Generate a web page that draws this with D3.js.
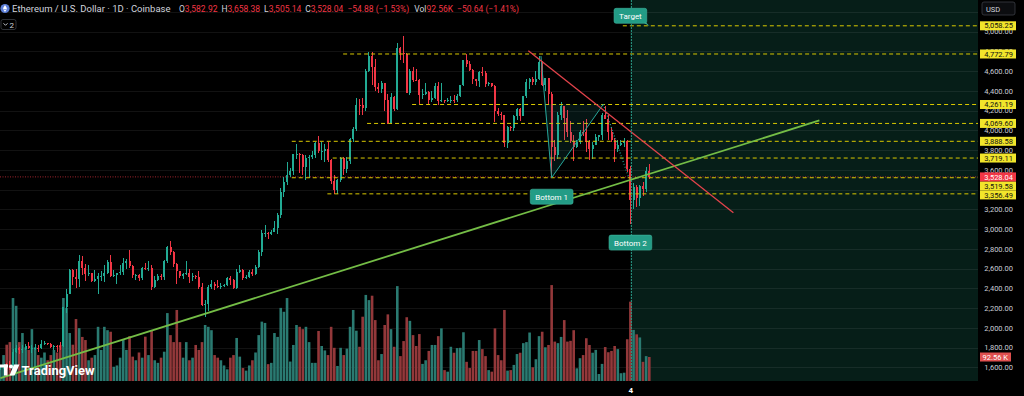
<!DOCTYPE html>
<html lang="en">
<head>
<meta charset="utf-8">
<script src="https://cdnjs.cloudflare.com/ajax/libs/d3/7.8.5/d3.min.js"></script>
<style>
body{margin:0;background:#000;overflow:hidden}
svg{display:block;font-family:Roboto,"Noto Sans",sans-serif}
</style>
</head>
<body>
<svg id="chart" width="1024" height="396"></svg>
<script>
// daily candles, ETH/USD Coinbase, first bar 18 Apr 2025
var firstDay = new Date(2025, 3, 18);
var opens = [1585,1588,1613,1587,1577,1757,1797,1771,1786,1820,
  1792,1798,1799,1794,1838,1843,1834,1808,1816,1815,
  1811,2207,2345,2583,2515,2495,2680,2610,2545,2550,
  2475,2495,2525,2525,2550,2665,2525,2530,2550,2565,
  2660,2680,2630,2530,2530,2505,2605,2595,2610,2415,
  2480,2525,2510,2680,2815,2770,2645,2575,2525,2545,
  2550,2515,2525,2515,2410,2230,2240,2415,2440,2420,
  2415,2425,2435,2500,2485,2405,2570,2590,2505,2515,
  2570,2540,2615,2770,2955,2960,2945,2975,3015,3140,
  3375,3475,3545,3590,3755,3760,3745,3625,3715,3725,
  3745,3875,3795,3795,3810,3695,3485,3395,3495,3715,
  3610,3685,3910,4010,4260,4255,4225,4600,4750,4640,
  4440,4420,4475,4310,4070,4340,4220,4830,4780,4775,
  4380,4600,4510,4505,4360,4370,4390,4310,4330,4450,
  4300,4305,4300,4305,4310,4305,4350,4455,4715,4670,
  4610,4520,4500,4590,4585,4470,4480,4450,4200,4165,
  4150,3870,4030,4020,4140,4215,4145,4350,4485,4515,
  4490,4515,4690,4460,4525,4370,3830,3750,4155,4245,
  4125,3985,3895,3830,3885,3985,3980,3880,3810,3855,
  3935,3950,4160,4115,3980,3905,3810,3850,3875,3895,
  3605,3290,3430,3315,3435,3405,3582.92];
var highs = [1600,1615,1640,1660,1785,1830,1805,1822,1835,1855,
  1830,1840,1825,1875,1868,1849,1845,1826,1830,1861,
  2210,2390,2600,2600,2600,2738,2724,2645,2640,2560,
  2590,2555,2580,2635,2690,2735,2590,2560,2640,2710,
  2700,2790,2640,2540,2545,2620,2660,2680,2640,2525,
  2540,2540,2690,2830,2880,2780,2655,2580,2550,2680,
  2600,2555,2535,2575,2450,2280,2430,2480,2465,2485,
  2450,2440,2510,2525,2495,2595,2640,2600,2530,2590,
  2595,2635,2790,2990,3040,2970,2995,3085,3160,3420,
  3530,3680,3615,3760,3860,3770,3755,3750,3745,3790,
  3880,3940,3880,3865,3880,3710,3545,3505,3730,3725,
  3725,3925,4030,4330,4320,4330,4625,4790,4790,4720,
  4475,4500,4480,4370,4380,4350,4880,4840,4956,4780,
  4620,4640,4620,4520,4420,4480,4400,4400,4480,4485,
  4480,4310,4330,4350,4360,4370,4460,4715,4770,4700,
  4620,4520,4600,4640,4600,4485,4480,4460,4230,4190,
  4155,4040,4040,4150,4230,4230,4350,4520,4530,4540,
  4600,4755,4700,4530,4525,4390,3900,4190,4290,4245,
  4210,4090,3950,3900,4000,4090,4110,3900,3880,3960,
  3955,4180,4250,4160,4030,3920,3900,3900,3920,3900,
  3635,3470,3450,3450,3480,3630,3658.38];
var lows = [1575,1580,1560,1570,1565,1745,1735,1740,1775,1786,
  1745,1780,1755,1790,1827,1825,1800,1779,1750,1780,
  1806,2150,2340,2430,2400,2410,2530,2475,2520,2460,
  2460,2340,2470,2460,2540,2515,2510,2440,2530,2535,
  2600,2610,2500,2480,2475,2485,2585,2580,2380,2400,
  2470,2480,2485,2660,2740,2620,2440,2500,2490,2530,
  2450,2470,2490,2390,2225,2110,2170,2390,2385,2400,
  2390,2410,2420,2430,2390,2395,2560,2485,2490,2505,
  2520,2535,2605,2730,2920,2900,2935,2970,2945,3110,
  3325,3450,3525,3550,3705,3565,3550,3500,3520,3710,
  3715,3770,3700,3680,3680,3460,3360,3355,3480,3545,
  3570,3660,3880,3990,4150,4150,4200,4590,4460,4400,
  4380,4380,4200,4060,4060,4200,4210,4710,4680,4380,
  4360,4490,4500,4270,4320,4360,4270,4290,4320,4260,
  4290,4280,4285,4280,4280,4290,4340,4445,4640,4600,
  4470,4450,4440,4550,4440,4450,4440,4080,4140,4100,
  3830,3820,3990,3990,4100,4090,4140,4330,4420,4460,
  4460,4510,4450,4400,4270,3520,3690,3710,4100,3900,
  3930,3870,3690,3820,3860,3940,3780,3700,3710,3850,
  3890,3900,4110,3900,3880,3680,3780,3845,3830,3580,
  3055,3200,3220,3230,3335,3380,3505.14];
var closes = [1588,1613,1587,1577,1757,1797,1771,1786,1820,1792,
  1798,1799,1794,1838,1843,1834,1808,1816,1815,1811,
  2207,2345,2583,2515,2495,2680,2610,2545,2550,2475,
  2495,2525,2525,2550,2665,2525,2530,2550,2565,2660,
  2680,2630,2530,2530,2505,2605,2595,2610,2415,2480,
  2525,2510,2680,2815,2770,2645,2575,2525,2545,2550,
  2515,2525,2515,2410,2230,2240,2415,2440,2420,2415,
  2425,2435,2500,2485,2405,2570,2590,2505,2515,2570,
  2540,2615,2770,2955,2960,2945,2975,3015,3140,3375,
  3475,3545,3590,3755,3760,3745,3625,3715,3725,3745,
  3875,3795,3795,3810,3695,3485,3395,3495,3715,3610,
  3685,3910,4010,4260,4255,4225,4600,4750,4640,4440,
  4420,4475,4310,4070,4340,4220,4830,4780,4775,4380,
  4600,4510,4505,4360,4370,4390,4310,4330,4450,4300,
  4305,4300,4305,4310,4305,4350,4455,4715,4670,4610,
  4520,4500,4590,4585,4470,4480,4450,4200,4165,4150,
  3870,4030,4020,4140,4215,4145,4350,4485,4515,4490,
  4515,4690,4460,4525,4370,3830,3750,4155,4245,4125,
  3985,3895,3830,3885,3985,3980,3880,3810,3855,3935,
  3950,4160,4115,3980,3905,3810,3850,3875,3895,3605,
  3290,3430,3315,3435,3405,3582.92,3528.04];
// volume in thousands
var volumes = [60,100,140,150,320,290,150,185,130,120,
  200,130,100,90,110,80,100,120,110,139,
  320,282,185,140,239,204,170,158,80,90,
  100,209,120,209,196,190,55,60,90,158,
  120,173,94,80,110,90,171,100,196,80,
  70,90,113,262,177,150,274,150,90,150,
  80,90,139,120,150,216,209,196,100,90,
  80,60,45,90,100,166,94,50,40,60,
  80,110,177,229,224,65,70,185,170,282,
  267,320,75,139,216,209,200,209,150,70,
  70,193,135,118,100,209,128,58,128,100,
  125,209,274,194,132,248,332,312,329,235,
  80,104,216,257,200,132,366,96,154,246,
  232,177,135,181,66,80,116,139,139,173,
  203,42,36,132,109,127,128,188,74,50,
  116,116,158,123,96,42,36,203,100,80,
  274,40,42,62,104,109,146,150,187,53,
  84,173,190,130,139,370,152,146,170,235,
  152,155,196,49,88,100,165,139,109,120,
  27,66,131,111,116,135,123,30,32,161,
  306,197,180,168,74,96,92.56];

var priceTicks = [1600,1800,2000,2200,2400,2600,2800,3000,3200,3400,3600,3800,4000,4200,4400,4600,4800,5000,5200];
var hiddenTicks = [3400,5200];
var levels = [5058.25,4772.79,4261.19,4069.60,3888.58,3719.11,3519.58,3356.49];
var levelStarts = [197.6,108.8,130.7,116.4,92.5,105.5,92.5,103.8];
// drawn lines as [bar index, price]
var supportLine = [[0,1490],[260,4100]];
var resistLine = [[167.6,4806],[232.7,3166]];
var patternSolid = [[171.6,4752],[175,3520],[191.4,4263]];
var patternDotted = [[191.4,4263],[199.4,3527]];
var patternFill = [[172.7,4263],[191.4,4263],[175,3520]];
var markerIndex = 200;
var noteTexts = ["Target","Bottom 1","Bottom 2"];
var noteAnchors = [[200,5058.25],[175,3520],[200,3055]];
var volDelta = "\u221250.64 (\u22121.41%)";

var dates = opens.map(function(d,i){ return d3.timeDay.offset(firstDay, i); });
var last = closes.length - 1;
var fmt = d3.format(",.2f");

var svg = d3.select("#chart");
var plotW = 978, plotH = 381;
var upC = "#22ab94", downC = "#f23645";

var x = d3.scaleLinear().domain([0, 206]).range([0.4, 649.3]);
var y = d3.scaleLinear().domain([1600, 5200]).range([367.3, 11.8]);
var yVol = d3.scaleLinear().domain([0, 400]).range([381, 277.3]);

svg.append("rect").attr("width",1024).attr("height",396).attr("fill","#000");
svg.append("clipPath").attr("id","clip").append("rect").attr("width",plotW).attr("height",plotH);
var g = svg.append("g").attr("clip-path","url(#clip)");

// shaded zone after the marker
g.append("rect").attr("x",x(markerIndex)).attr("y",0)
  .attr("width",plotW - x(markerIndex)).attr("height",plotH).attr("fill","#061e18");

g.selectAll(".grid").data(priceTicks).enter().append("line")
  .attr("x1",0).attr("x2",plotW)
  .attr("y1",function(d){ return Math.round(y(d))+0.5; })
  .attr("y2",function(d){ return Math.round(y(d))+0.5; })
  .attr("stroke","rgba(255,255,255,0.07)");

// volume
g.selectAll(".vol").data(volumes).enter().append("rect")
  .attr("x",function(d,i){ return x(i)-1.3; })
  .attr("width",2.6)
  .attr("y",function(d){ return yVol(d); })
  .attr("height",function(d){ return yVol(0)-yVol(d); })
  .attr("fill",function(d,i){ return closes[i] >= opens[i] ? "#2a7a71" : "#93383a"; });

// last price line
g.append("line").attr("x1",0).attr("x2",plotW)
  .attr("y1",y(closes[last])).attr("y2",y(closes[last]))
  .attr("stroke",downC).attr("stroke-width",0.8).attr("stroke-dasharray","1,1.5").attr("opacity",0.85);

// candles
var cg = g.append("g").attr("shape-rendering","crispEdges");
cg.selectAll(".wick").data(closes).enter().append("line")
  .attr("x1",function(d,i){ return x(i); }).attr("x2",function(d,i){ return x(i); })
  .attr("y1",function(d,i){ return y(highs[i]); }).attr("y2",function(d,i){ return y(lows[i]); })
  .attr("stroke",function(d,i){ return d >= opens[i] ? upC : downC; });
cg.selectAll(".body").data(closes).enter().append("rect")
  .attr("x",function(d,i){ return x(i)-1; }).attr("width",2)
  .attr("y",function(d,i){ return y(Math.max(d,opens[i])); })
  .attr("height",function(d,i){ return Math.max(1, Math.abs(y(d)-y(opens[i]))); })
  .attr("fill",function(d,i){ return d >= opens[i] ? upC : downC; });

// horizontal levels
g.selectAll(".lvl").data(levels).enter().append("line")
  .attr("x1",function(d,i){ return x(levelStarts[i]); }).attr("x2",plotW)
  .attr("y1",function(d){ return y(d); }).attr("y2",function(d){ return y(d); })
  .attr("stroke","#d9c800").attr("stroke-width",1).attr("stroke-dasharray","4,3");

var line = d3.line().x(function(d){ return x(d[0]); }).y(function(d){ return y(d[1]); });

// pattern
g.append("path").attr("d",line(patternFill)+"Z").attr("fill","rgba(38,166,154,0.13)");
g.append("path").attr("d",line(patternSolid)).attr("fill","none").attr("stroke","#26a69a").attr("stroke-width",1);
g.append("path").attr("d",line(patternDotted)).attr("fill","none").attr("stroke","#26a69a")
  .attr("stroke-width",1.2).attr("stroke-dasharray","1,2");

// trend lines
g.append("path").attr("d",line(supportLine)).attr("stroke","#74bd46").attr("stroke-width",1.8).attr("fill","none");
g.append("path").attr("d",line(resistLine)).attr("stroke","#e3434b").attr("stroke-width",1.3).attr("fill","none");

// marker line
g.append("line").attr("x1",x(markerIndex)+1).attr("x2",x(markerIndex)+1).attr("y1",0).attr("y2",plotH)
  .attr("stroke","#2a9a88").attr("stroke-width",1).attr("stroke-dasharray","2,1");

// notes
noteTexts.forEach(function(t,k){
  var a = noteAnchors[k];
  var cx = x(a[0]), cy = y(a[1]) + (k === 0 ? -10 : 19);
  var ng = g.append("g");
  var txt = ng.append("text").attr("x",cx).attr("y",cy+3).attr("text-anchor","middle")
    .attr("fill","#fff").attr("font-size",8).text(t);
  var w = txt.node().getComputedTextLength() + 10;
  ng.insert("rect","text").attr("x",cx-w/2).attr("y",cy-7.5).attr("width",w).attr("height",15)
    .attr("rx",2).attr("fill","#239c86").attr("stroke","#3fb59d").attr("stroke-width",0.6);
  if (k === 0) {
    ng.insert("path","text").attr("d","M"+(cx+w/2-3)+","+(cy+7)+" L"+(cx+w/2+3)+","+(y(a[1])+0.5)+" L"+(cx+w/2-0.5)+","+(cy+7)+"Z")
      .attr("fill","#3fb59d");
  }
});

// right price axis
svg.append("rect").attr("x",plotW).attr("width",1024-plotW).attr("height",396).attr("fill","#000");
var ax = svg.append("g").attr("transform","translate(1013,0)")
  .call(d3.axisLeft(y).tickValues(priceTicks.filter(function(d){ return hiddenTicks.indexOf(d) < 0; }))
    .tickFormat(fmt).tickSize(0).tickPadding(0));
ax.select(".domain").remove();
ax.attr("font-size",7.5).attr("font-family","Roboto, sans-serif");
ax.selectAll("text").attr("fill","#c9ccd4");

// price labels on the axis
var tags = levels.map(function(d){ return {v:d, y:y(d), fill:"#f2e52b", color:"#111"}; });
tags.push({v:closes[last], y:y(closes[last]), fill:downC, color:"#fff", main:true});
tags.sort(function(a,b){ return a.y - b.y || (b.main?1:0) - (a.main?1:0); });
var tagH = 9;
for (var k = 1; k < tags.length; k++) {
  if (tags[k].y - tags[k-1].y < tagH) tags[k].y = tags[k-1].y + tagH;
}
tags.sort(function(a,b){ return (a.main?1:0) - (b.main?1:0); });
var tg = svg.selectAll(".tag").data(tags).enter().append("g");
tg.append("rect").attr("x",980).attr("y",function(d){ return d.y - tagH/2; })
  .attr("width",36).attr("height",tagH).attr("fill",function(d){ return d.fill; });
tg.append("text").attr("x",1013).attr("y",function(d){ return d.y + 2.7; }).attr("text-anchor","end")
  .attr("font-size",7.5).attr("fill",function(d){ return d.color; }).text(function(d){ return fmt(d.v); });

// volume label
var vTag = svg.append("g");
vTag.append("rect").attr("x",980).attr("y",yVol(volumes[last])-4.5).attr("width",31).attr("height",9).attr("fill","#e0504f");
vTag.append("text").attr("x",1008).attr("y",yVol(volumes[last])+2.7).attr("text-anchor","end")
  .attr("font-size",7.5).attr("fill","#fff").text(d3.format(".2f")(volumes[last]) + " K");

// currency box
svg.append("rect").attr("x",982).attr("y",2).attr("width",33).attr("height",13).attr("rx",2)
  .attr("fill","#0c0d10").attr("stroke","#3a3d45").attr("stroke-width",0.8);
svg.append("text").attr("x",986).attr("y",11.5).attr("font-size",7.5).attr("fill","#d1d4dc").text("USD");

// time axis
var tx = svg.append("g").attr("transform","translate(0,384)")
  .call(d3.axisBottom(x).tickValues([markerIndex]).tickSize(0).tickPadding(3)
    .tickFormat(function(i){ return d3.timeFormat("%-d")(dates[i]); }));
tx.select(".domain").remove();
tx.attr("font-size",8).attr("font-family","Roboto, sans-serif").attr("font-weight","bold");
tx.selectAll("text").attr("fill","#fff");

// header
var hd = svg.append("g");
hd.append("circle").attr("cx",5).attr("cy",8.5).attr("r",4.6).attr("fill","#5b7dd6");
hd.append("path").attr("d","M5,4.9 L7.1,8.4 L5,9.6 L2.9,8.4 Z M5,10.2 L7.1,9 L5,12 L2.9,9 Z").attr("fill","#fff");
hd.append("text").attr("x",12).attr("y",12).attr("font-size",9.5).attr("fill","#d1d4dc")
  .text("Ethereum / U.S. Dollar \u00b7 1D \u00b7 Coinbase");
var chg = closes[last] - closes[last-1];
var oh = hd.append("text").attr("x",179).attr("y",12).attr("font-size",8.5);
[["O",fmt(opens[last])],["H",fmt(highs[last])],["L",fmt(lows[last])],["C",fmt(closes[last])]].forEach(function(p,k){
  oh.append("tspan").attr("fill","#d1d4dc").attr("dx",k ? 4 : 0).text(p[0]);
  oh.append("tspan").attr("fill",downC).text(p[1]);
});
oh.append("tspan").attr("fill",downC).attr("dx",4)
  .text(fmt(chg) + " (" + d3.format(".2%")(chg / closes[last-1]) + ")");
oh.append("tspan").attr("fill","#d1d4dc").attr("dx",5).text("Vol");
oh.append("tspan").attr("fill",downC).text(d3.format(".2f")(volumes[last]) + "K");
oh.append("tspan").attr("fill",downC).attr("dx",4).text(volDelta);

hd.append("rect").attr("x",1).attr("y",19.5).attr("width",15).attr("height",10).attr("rx",2)
  .attr("fill","none").attr("stroke","#3a3d45").attr("stroke-width",0.8);
hd.append("path").attr("d","M3.5,23.3 L5.5,25.3 L7.5,23.3").attr("fill","none").attr("stroke","#d1d4dc").attr("stroke-width",0.9);
hd.append("text").attr("x",9.5).attr("y",27.5).attr("font-size",8).attr("fill","#d1d4dc").text("2");

// watermark
var wm = svg.append("g").attr("fill","#fff");
wm.append("rect").attr("x",0).attr("y",364.5).attr("width",8).attr("height",3);
wm.append("rect").attr("x",4).attr("y",364.5).attr("width",3.5).attr("height",11);
wm.append("circle").attr("cx",11).attr("cy",366.5).attr("r",2);
wm.append("path").attr("d","M14,364.5 L19.5,364.5 L14.5,375.5 L9.5,375.5 Z");
wm.append("text").attr("x",21.5).attr("y",375).attr("font-size",13).attr("font-weight","bold").text("TradingView");
</script>
</body>
</html>
